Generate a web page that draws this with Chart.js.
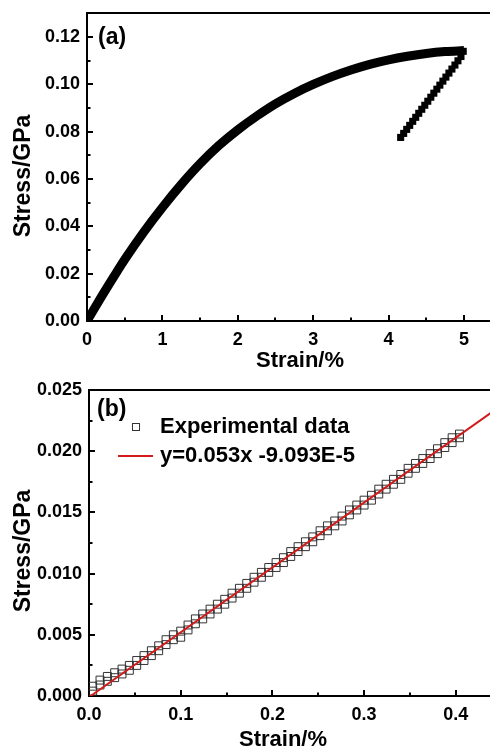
<!DOCTYPE html>
<html>
<head>
<meta charset="utf-8">
<script src="https://cdn.jsdelivr.net/npm/chart.js@4.4.0/dist/chart.umd.min.js"></script>
<style>
  body { margin: 0; background: #fff; }
  #wrap { position: relative; width: 490px; height: 750px; overflow: hidden; background: #fff; }
  #chartA { position: absolute; left: 0; top: 0; }
  #chartB { position: absolute; left: 0; top: 370px; }
</style>
</head>
<body>
<div id="wrap">
  <canvas id="chartA" width="490" height="380"></canvas>
  <canvas id="chartB" width="490" height="380"></canvas>
</div>
<script>
// (a) loading curve and unloading branch
const loadStrain = [0, 0.1, 0.2, 0.3, 0.4, 0.5, 0.75, 1, 1.25, 1.5, 1.75, 2, 2.25, 2.5, 2.75, 3, 3.25, 3.5, 3.75, 4, 4.25, 4.5, 4.75, 5];
const loadStress = [0, 0.0054, 0.0107, 0.0159, 0.0210, 0.0260, 0.0375, 0.0480, 0.0577, 0.0665, 0.0742, 0.0808, 0.0866, 0.0918, 0.0962, 0.1000, 0.1033, 0.1061, 0.1085, 0.1104, 0.1119, 0.1131, 0.1139, 0.1143];
const unloadStrain = [4.99, 4.96, 4.92, 4.88, 4.84, 4.80, 4.76, 4.72, 4.68, 4.64, 4.60, 4.56, 4.52, 4.48, 4.44, 4.40, 4.36, 4.32, 4.28, 4.24, 4.20, 4.16];
const unloadStress = [0.1140, 0.1118, 0.1100, 0.1082, 0.1065, 0.1048, 0.1031, 0.1014, 0.0997, 0.0980, 0.0963, 0.0946, 0.0929, 0.0912, 0.0895, 0.0878, 0.0861, 0.0844, 0.0827, 0.0810, 0.0793, 0.0776];

// (b) elastic part (stair-stepped readings) and linear fit
const expStrain = [0.004, 0.004, 0.012, 0.012, 0.020, 0.020, 0.028, 0.028, 0.036, 0.036, 0.044, 0.044, 0.052, 0.052, 0.060, 0.060, 0.068, 0.068,
  0.076, 0.076, 0.084, 0.084, 0.092, 0.092, 0.100, 0.100, 0.108, 0.108, 0.116, 0.116, 0.124, 0.124, 0.132, 0.132, 0.140, 0.140,
  0.148, 0.148, 0.156, 0.156, 0.164, 0.164, 0.172, 0.172, 0.180, 0.180, 0.188, 0.188, 0.196, 0.196, 0.204, 0.204, 0.212, 0.212,
  0.220, 0.220, 0.228, 0.228, 0.236, 0.236, 0.244, 0.244, 0.252, 0.252, 0.260, 0.260, 0.268, 0.268, 0.276, 0.276, 0.284, 0.284,
  0.292, 0.292, 0.300, 0.300, 0.308, 0.308, 0.316, 0.316, 0.324, 0.324, 0.332, 0.332, 0.340, 0.340, 0.348, 0.348, 0.356, 0.356,
  0.364, 0.364, 0.372, 0.372, 0.380, 0.380, 0.388, 0.388, 0.396, 0.396, 0.404, 0.404];
const expStress = [0.0004, 0.0008, 0.0009, 0.0013, 0.0012, 0.0016, 0.0015, 0.0019, 0.0018, 0.0022, 0.0021, 0.0025, 0.0025, 0.0029, 0.0029, 0.0033, 0.0033, 0.0037,
  0.0037, 0.0041, 0.0042, 0.0046, 0.0046, 0.0050, 0.0048, 0.0053, 0.0054, 0.0058, 0.0059, 0.0063, 0.0063, 0.0067, 0.0067, 0.0071, 0.0071, 0.0075,
  0.0075, 0.0079, 0.0080, 0.0084, 0.0084, 0.0088, 0.0088, 0.0092, 0.0093, 0.0097, 0.0097, 0.0101, 0.0101, 0.0105, 0.0105, 0.0109, 0.0109, 0.0113,
  0.0114, 0.0118, 0.0118, 0.0122, 0.0122, 0.0126, 0.0126, 0.0130, 0.0131, 0.0135, 0.0135, 0.0139, 0.0139, 0.0143, 0.0143, 0.0147, 0.0148, 0.0152,
  0.0152, 0.0156, 0.0156, 0.0160, 0.0160, 0.0164, 0.0165, 0.0169, 0.0169, 0.0173, 0.0173, 0.0177, 0.0177, 0.0181, 0.0182, 0.0186, 0.0186, 0.0190,
  0.0190, 0.0194, 0.0194, 0.0198, 0.0198, 0.0202, 0.0203, 0.0207, 0.0207, 0.0211, 0.0211, 0.0214];
const fitStrain = [0, 0.44];
const fitStress = [-0.00009, 0.02323];
const fitLabel = 'y=0.053x -9.093E-5';
const expLabel = 'Experimental data';

const FONT = '"Liberation Sans", Arial, sans-serif';
const RED = '#d21a1a';

function pairs(xs, ys) {
  return xs.map((x, i) => ({ x: x, y: ys[i] }));
}

// frame top line, inward ticks, axis titles, panel label, legend
const decorPlugin = {
  id: 'decor',
  afterDraw(chart, args, opts) {
    const ctx = chart.ctx;
    const area = chart.chartArea;
    const xs = chart.scales.x, ys = chart.scales.y;
    ctx.save();
    ctx.strokeStyle = '#000';
    ctx.lineWidth = 2;
    ctx.beginPath();
    ctx.moveTo(area.left, area.top);
    ctx.lineTo(area.right, area.top);
    ctx.stroke();

    // x ticks (pointing up into the plot)
    const nx = Math.floor(xs.max / opts.xMinor + 1e-6);
    for (let i = 1; i <= nx; i++) {
      const px = Math.round(xs.getPixelForValue(i * opts.xMinor));
      const len = (i % opts.xRatio === 0) ? 6 : 3.5;
      ctx.beginPath();
      ctx.moveTo(px, area.bottom);
      ctx.lineTo(px, area.bottom - len);
      ctx.stroke();
    }
    // y ticks (pointing right into the plot)
    const ny = Math.floor(ys.max / opts.yMinor + 1e-6);
    for (let i = 1; i <= ny; i++) {
      const py = Math.round(ys.getPixelForValue(i * opts.yMinor));
      const len = (i % opts.yRatio === 0) ? 6 : 3.5;
      ctx.beginPath();
      ctx.moveTo(area.left, py);
      ctx.lineTo(area.left + len, py);
      ctx.stroke();
    }

    ctx.fillStyle = '#000';
    ctx.textBaseline = 'middle';
    // panel label
    ctx.font = 'bold 23px ' + FONT;
    ctx.textAlign = 'left';
    ctx.fillText(opts.panel, opts.panelX, opts.panelY);
    // x title
    ctx.font = 'bold 22px ' + FONT;
    ctx.textAlign = 'center';
    ctx.fillText('Strain/%', opts.xTitleX, opts.xTitleY);
    // y title
    ctx.save();
    ctx.translate(opts.yTitleX, opts.yTitleY);
    ctx.rotate(-Math.PI / 2);
    ctx.font = 'bold 23px ' + FONT;
    ctx.fillText('Stress/GPa', 0, 0);
    ctx.restore();

    if (opts.legend) {
      const lg = opts.legend;
      ctx.font = 'bold 22px ' + FONT;
      ctx.textAlign = 'left';
      ctx.strokeStyle = '#333';
      ctx.lineWidth = 1;
      ctx.strokeRect(lg.x + 14.5, lg.y1 - 3.5, 7, 7);
      ctx.fillText(expLabel, lg.x + 42, lg.y1);
      ctx.strokeStyle = RED;
      ctx.lineWidth = 2;
      ctx.beginPath();
      ctx.moveTo(lg.x, lg.y2);
      ctx.lineTo(lg.x + 35, lg.y2);
      ctx.stroke();
      ctx.fillStyle = '#000';
      ctx.fillText(fitLabel, lg.x + 42, lg.y2);
    }
    ctx.restore();
  }
};

function axisOpts(min, max, step, decimals, size, horizontal) {
  return {
    type: 'linear',
    min: min,
    max: max,
    grid: { display: false, drawTicks: false },
    border: { display: true, color: '#000', width: 2 },
    ticks: {
      stepSize: step,
      includeBounds: false,
      autoSkip: false,
      maxRotation: 0,
      padding: horizontal ? 8 : 7,
      color: '#000',
      font: { family: FONT, size: 18, weight: 'bold' },
      callback: v => v.toFixed(decimals)
    },
    afterFit: s => {
      if (horizontal) s.height = size; else s.width = size;
      // keep the plot box flush with the canvas edges
      s.paddingLeft = 0; s.paddingRight = 0; s.paddingTop = 0; s.paddingBottom = 0;
    }
  };
}

new Chart(document.getElementById('chartA'), {
  type: 'scatter',
  data: {
    datasets: [
      {
        data: pairs(loadStrain, loadStress),
        showLine: true,
        borderColor: '#000',
        borderWidth: 9,
        cubicInterpolationMode: 'monotone',
        pointRadius: 0
      },
      {
        data: pairs(unloadStrain, unloadStress),
        pointStyle: 'rect',
        pointRadius: 5,
        backgroundColor: '#000',
        borderColor: '#000',
        borderWidth: 0
      }
    ]
  },
  options: {
    responsive: false,
    animation: false,
    layout: { autoPadding: false, padding: { top: 13, left: 0, right: 0, bottom: 0 } },
    plugins: {
      legend: { display: false },
      tooltip: { enabled: false },
      decor: {
        xMinor: 0.5, xRatio: 2, yMinor: 0.01, yRatio: 2,
        panel: '(a)', panelX: 98, panelY: 38,
        xTitleX: 300, xTitleY: 361,
        yTitleX: 24, yTitleY: 176
      }
    },
    scales: {
      x: axisOpts(0, 5.345, 1, 0, 59, true),
      y: axisOpts(0, 0.1302, 0.02, 2, 87, false)
    }
  },
  plugins: [decorPlugin]
});

new Chart(document.getElementById('chartB'), {
  type: 'scatter',
  data: {
    datasets: [
      {
        data: pairs(fitStrain, fitStress),
        showLine: true,
        borderColor: RED,
        borderWidth: 2,
        pointRadius: 0,
        order: 0
      },
      {
        data: pairs(expStrain, expStress),
        pointStyle: 'rect',
        pointRadius: 5.6,
        backgroundColor: 'rgba(0,0,0,0)',
        borderColor: '#333',
        borderWidth: 1,
        order: 1
      }
    ]
  },
  options: {
    responsive: false,
    animation: false,
    layout: { autoPadding: false, padding: { top: 20, left: 0, right: 0, bottom: 0 } },
    plugins: {
      legend: { display: false },
      tooltip: { enabled: false },
      decor: {
        xMinor: 0.05, xRatio: 2, yMinor: 0.0025, yRatio: 2,
        panel: '(b)', panelX: 97, panelY: 40,
        xTitleX: 283, xTitleY: 370,
        yTitleX: 24, yTitleY: 181,
        legend: { x: 118, y1: 57, y2: 86 }
      }
    },
    scales: {
      x: axisOpts(0, 0.4373, 0.1, 1, 54, true),
      y: axisOpts(0, 0.025, 0.005, 3, 89, false)
    }
  },
  plugins: [decorPlugin]
});
</script>
</body>
</html>
